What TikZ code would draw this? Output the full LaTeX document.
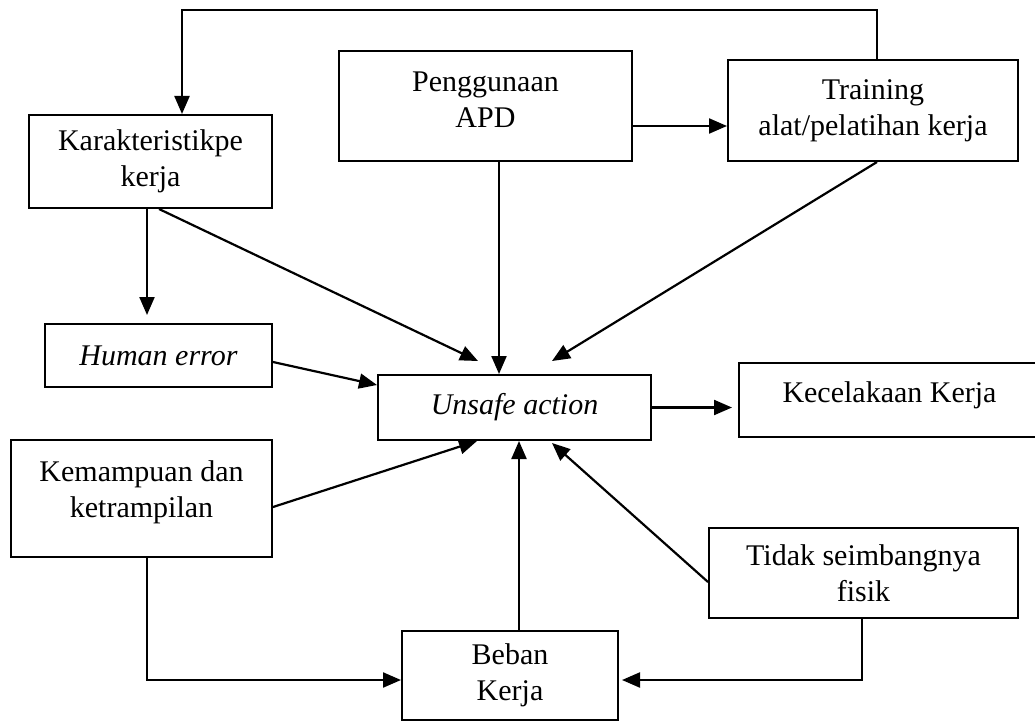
\documentclass[tikz,border=0pt]{standalone}
\usepackage{fontspec}
\setmainfont{Liberation Serif}
\usetikzlibrary{arrows.meta,positioning,calc}

\begin{document}
\begin{tikzpicture}[x=1pt,y=-1pt,
    box/.style={draw,line width=2pt,align=center,inner sep=0pt,font=\fontsize{30}{36}\selectfont},
    arr/.style={line width=2.2pt,-{Triangle[length=18pt,width=15pt]}}]
    \useasboundingbox (0,0) rectangle (1035,722);

    % Top row
    \node[box,minimum width=243pt,minimum height=93pt] (kar) at (150.5,161.5) {Karakteristikpe\\kerja};
    \node[box,minimum width=293pt,minimum height=110pt] (apd) at (485.5,106) {Penggunaan\\APD\\[-24pt]};
    \node[box,minimum width=290pt,minimum height=101pt] (train) at (873,110.5) {Training\\alat/pelatihan kerja};

    % Middle row
    \node[box,minimum width=227pt,minimum height=63pt] (human) at (158.5,355.5) {\textit{Human error}};
    \node[box,minimum width=273pt,minimum height=65pt] (unsafe) at (514.5,407.5) {\textit{Unsafe action}};
    \node[box,minimum width=301pt,minimum height=74pt] (kec) at (889.5,400) {Kecelakaan Kerja\\[-20pt]};

    % Bottom row
    \node[box,minimum width=261pt,minimum height=117pt] (kem) at (141.5,498.5) {Kemampuan dan\\ketrampilan\\[-17pt]};
    \node[box,minimum width=309pt,minimum height=90pt] (tidak) at (863.5,573) {Tidak seimbangnya\\fisik};
    \node[box,minimum width=216pt,minimum height=89pt] (beban) at (510,675.5) {Beban\\Kerja};

    % feedback line over the top
    \draw[arr] ([xshift=4pt]train.north) |- ([xshift=31.5pt]kar.north |- 0,10) -- ([xshift=31.5pt]kar.north);
    \draw[arr] ([yshift=-20pt]apd.east) -- ([yshift=-20pt]apd.east -| train.west);
    \draw[arr,shorten >=8pt] ([xshift=-3.5pt]kar.south) -- ([xshift=-3.5pt]kar.south |- human.north);

    % everything into unsafe action
    \draw[arr] ([xshift=8.5pt]kar.south) -- ([xshift=-36.5pt,yshift=13pt]unsafe.north);
    \draw[arr] ([xshift=13.5pt]apd.south) -- ([xshift=13.5pt]apd.south |- unsafe.north);
    \draw[arr] ([xshift=4pt]train.south) -- ([xshift=37.5pt,yshift=13pt]unsafe.north);
    \draw[arr] ([yshift=-6.5pt]human.east) -- ([yshift=22.5pt]unsafe.west);
    \draw[arr] ([yshift=-8.5pt]kem.east) -- ([xshift=-37.5pt]unsafe.south);
    \draw[arr] ([xshift=9pt]beban.north) -- ([xshift=9pt]beban.north |- unsafe.south);
    \draw[arr] ([yshift=-9pt]tidak.west) -- ([xshift=37.5pt,yshift=-2pt]unsafe.south);
    \draw[arr,shorten >=6pt] (unsafe.east) -- (unsafe.east -| kec.west);

    % into beban kerja
    \draw[arr] ([xshift=5.5pt]kem.south) |- ([yshift=-4.5pt]beban.west);
    \draw[arr,shorten >=3pt] ([xshift=-1.5pt]tidak.south) |- ([yshift=-4.5pt]beban.east);
\end{tikzpicture}
\end{document}
